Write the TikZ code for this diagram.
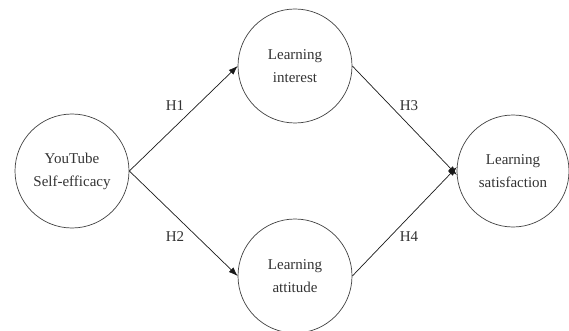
\documentclass[tikz,border=0pt]{standalone}
\usepackage{fontspec}
\setmainfont{Liberation Serif}
\usetikzlibrary{arrows.meta}
\begin{document}
\begin{tikzpicture}[x=1pt,y=-1pt,
  construct/.style={circle,draw=black!75,line width=0.7pt,minimum size=114pt,inner sep=0pt,
    align=center,font=\fontsize{15}{23}\selectfont,text=black!80},
  path/.style={draw=black!90,line width=0.7pt,-{Latex[length=9pt,width=6.5pt]}},
  hyp/.style={font=\fontsize{15}{18}\selectfont,text=black!80}]
\useasboundingbox (0,0) rectangle (569,331);
\node[construct] (yt) at (72,171) {YouTube\\Self-efficacy};
\node[construct] (li) at (295,66) {Learning\\interest};
\node[construct] (la) at (295,276) {Learning\\attitude};
\node[construct,minimum size=112pt] (ls) at (513,171) {Learning\\satisfaction};
\draw[path] (yt.east) -- (li.west);
\draw[path] (yt.east) -- (la.west);
\draw[path] (li.east) -- (ls.184);
\draw[path] (la.east) -- (ls.176);
\node[hyp] (h1) at (175,106) {H1};
\node[hyp] (h2) at (175,237) {H2};
\node[hyp] (h3) at (409,106) {H3};
\node[hyp] (h4) at (409,237) {H4};
\end{tikzpicture}
\end{document}
